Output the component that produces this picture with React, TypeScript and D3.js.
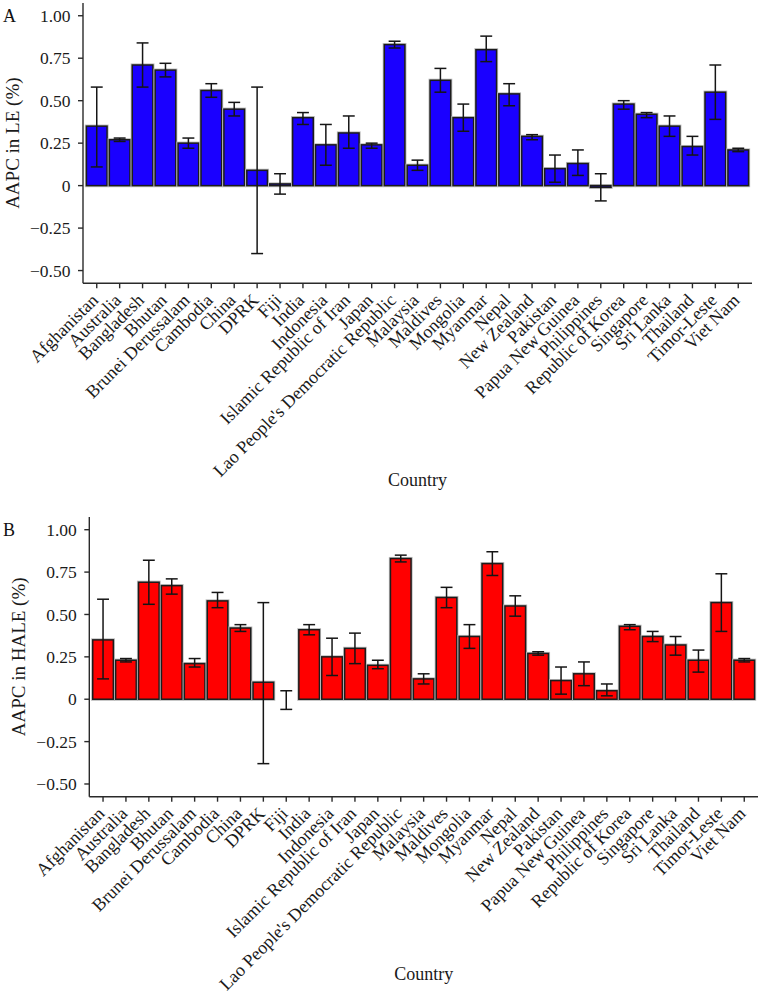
import React from 'react';
import * as d3 from 'd3';

const countries = [
  'Afghanistan', 'Australia', 'Bangladesh', 'Bhutan', 'Brunei Derussalam', 'Cambodia', 'China', 'DPRK', 'Fiji',
  'India', 'Indonesia', 'Islamic Republic of Iran', 'Japan', "Lao People's Democratic Republic", 'Malaysia',
  'Maldives', 'Mongolia', 'Myanmar', 'Nepal', 'New Zealand', 'Pakistan', 'Papua New Guinea', 'Philippines',
  'Republic of Korea', 'Singapore', 'Sri Lanka', 'Thailand', 'Timor-Leste', 'Viet Nam',
];

const leMean = [0.35, 0.27, 0.71, 0.68, 0.25, 0.56, 0.45, 0.09, 0.01, 0.40, 0.24, 0.31, 0.24, 0.83, 0.12, 0.62, 0.40, 0.80, 0.54, 0.29, 0.10, 0.13, -0.01, 0.48, 0.42, 0.35, 0.23, 0.55, 0.21];
const leLow = [0.11, 0.26, 0.58, 0.64, 0.22, 0.52, 0.41, -0.40, -0.05, 0.36, 0.12, 0.22, 0.22, 0.81, 0.09, 0.55, 0.32, 0.73, 0.47, 0.27, 0.02, 0.06, -0.09, 0.45, 0.40, 0.29, 0.18, 0.39, 0.20];
const leHigh = [0.58, 0.28, 0.84, 0.72, 0.28, 0.60, 0.49, 0.58, 0.07, 0.43, 0.36, 0.41, 0.25, 0.85, 0.15, 0.69, 0.48, 0.88, 0.60, 0.30, 0.18, 0.21, 0.07, 0.50, 0.43, 0.41, 0.29, 0.71, 0.22];

const haleMean: (number | null)[] = [0.35, 0.23, 0.69, 0.67, 0.21, 0.58, 0.42, 0.10, null, 0.41, 0.25, 0.30, 0.20, 0.83, 0.12, 0.60, 0.37, 0.80, 0.55, 0.27, 0.11, 0.15, 0.05, 0.43, 0.37, 0.32, 0.23, 0.57, 0.23];
const haleLow = [0.12, 0.22, 0.56, 0.62, 0.19, 0.54, 0.40, -0.38, -0.06, 0.38, 0.14, 0.21, 0.18, 0.81, 0.09, 0.54, 0.30, 0.73, 0.49, 0.26, 0.03, 0.08, 0.02, 0.41, 0.34, 0.26, 0.16, 0.40, 0.22];
const haleHigh = [0.59, 0.24, 0.82, 0.71, 0.24, 0.63, 0.44, 0.57, 0.05, 0.44, 0.36, 0.39, 0.23, 0.85, 0.15, 0.66, 0.44, 0.87, 0.61, 0.28, 0.19, 0.22, 0.09, 0.44, 0.40, 0.37, 0.29, 0.74, 0.24];

const yTicks = [-0.5, -0.25, 0, 0.25, 0.5, 0.75, 1.0];
const yTickLabels = ['\u22120.50', '\u22120.25', '0', '0.25', '0.50', '0.75', '1.00'];

const FONT = "'Liberation Serif', 'Times New Roman', serif";

type PanelProps = {
  tag: string;
  title: string;
  fill: string;
  mean: (number | null)[];
  low: number[];
  high: number[];
  x0: number;
  x1: number;
  yTop: number;
  yBottom: number;
  countryY: number;
};

function Panel({ tag, title, fill, mean, low, high, x0, x1, yTop, yBottom, countryY }: PanelProps) {
  const x = d3.scalePoint<string>().domain(countries).range([x0, x1]).padding(0.6);
  const y = d3.scaleLinear().domain([-0.575, 1.075]).range([yBottom, yTop]);
  const step = x.step();
  const bw = step * 0.9;
  const cap = step * 0.52;
  const axisColor = '#2a2a2a';
  const y0 = y(0);

  return (
    <g>
      <text x={3} y={yTop + 19} fontFamily={FONT} fontSize={18} fill="#111">{tag}</text>
      {countries.map((c, i) => {
        const v = mean[i];
        if (v === null || v === undefined) return null;
        const cx = x(c) as number;
        const top = Math.min(y(v), y0);
        const h = Math.max(Math.abs(y(v) - y0), 0.8);
        return (
          <g key={'b' + c}>
            <rect x={cx - bw / 2} y={top} width={bw} height={h} fill="none" stroke="#bdbdbd" strokeWidth={3.2} />
            <rect x={cx - bw / 2} y={top} width={bw} height={h} fill={fill} stroke="#1c1c1c" strokeWidth={1.5} />
          </g>
        );
      })}
      {countries.map((c, i) => {
        const cx = x(c) as number;
        const yl = y(low[i]);
        const yh = y(high[i]);
        return (
          <g key={'e' + c} stroke="#151515" strokeWidth={1.5}>
            <line x1={cx} x2={cx} y1={yh} y2={yl} />
            <line x1={cx - cap / 2} x2={cx + cap / 2} y1={yh} y2={yh} />
            <line x1={cx - cap / 2} x2={cx + cap / 2} y1={yl} y2={yl} />
          </g>
        );
      })}
      <line x1={x0} x2={x0} y1={yTop} y2={yBottom} stroke={axisColor} strokeWidth={1.4} />
      {yTicks.map((t, i) => (
        <g key={'yt' + t}>
          <line x1={x0 - 5} x2={x0} y1={y(t)} y2={y(t)} stroke={axisColor} strokeWidth={1.4} />
          <text x={x0 - 12.5} y={y(t)} dy="0.35em" textAnchor="end" fontFamily={FONT} fontSize={17.5} fill="#1a1a1a">
            {yTickLabels[i]}
          </text>
        </g>
      ))}
      <text
        transform={`translate(${x0 - 64},${(yTop + yBottom) / 2}) rotate(-90)`}
        textAnchor="middle"
        fontFamily={FONT}
        fontSize={19}
        fill="#1a1a1a"
      >
        {title}
      </text>
      <line x1={x0} x2={x1} y1={yBottom} y2={yBottom} stroke={axisColor} strokeWidth={1.4} />
      {countries.map((c) => {
        const cx = x(c) as number;
        return (
          <g key={'xt' + c}>
            <line x1={cx} x2={cx} y1={yBottom} y2={yBottom + 5} stroke={axisColor} strokeWidth={1.4} />
            <text
              transform={`translate(${cx + 2.5},${yBottom + 18}) rotate(-45)`}
              textAnchor="end"
              fontFamily={FONT}
              fontSize={18}
              fill="#1a1a1a"
            >
              {c}
            </text>
          </g>
        );
      })}
      <text x={(x0 + x1) / 2} y={countryY} textAnchor="middle" fontFamily={FONT} fontSize={18} fill="#1a1a1a">
        Country
      </text>
    </g>
  );
}

export default function App() {
  return (
    <svg
      width={758}
      height={997}
      viewBox="0 0 758 997"
      style={{ position: 'absolute', left: 0, top: 0, background: '#fff' }}
    >
      <rect x={0} y={0} width={758} height={997} fill="#fff" />
      <Panel
        tag="A"
        title="AAPC in LE (%)"
        fill="#1a00ff"
        mean={leMean}
        low={leLow}
        high={leHigh}
        x0={83}
        x1={752}
        yTop={3}
        yBottom={283.3}
        countryY={486}
      />
      <Panel
        tag="B"
        title="AAPC in HALE (%)"
        fill="#ff0000"
        mean={haleMean}
        low={haleLow}
        high={haleHigh}
        x0={89.3}
        x1={758}
        yTop={517}
        yBottom={796.7}
        countryY={980}
      />
    </svg>
  );
}
